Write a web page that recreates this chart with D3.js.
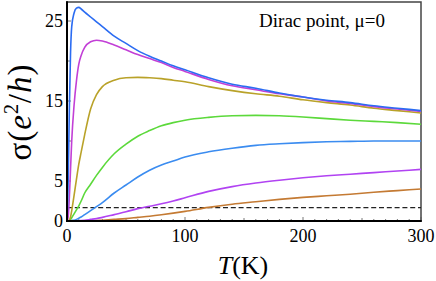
<!DOCTYPE html>
<html><head><meta charset="utf-8">
<script src="https://cdn.jsdelivr.net/npm/d3@7/dist/d3.min.js"></script>
<style>html,body{margin:0;padding:0;background:#fff}svg{display:block}</style>
</head><body>
<svg id="c" width="436" height="281"></svg>
<script>
const T = [0,1,2,3,4,6,8,10,12,15,20,25,30,40,50,60,70,80,90,100,120,140,160,180,200,220,240,260,280,300];
const sBlue1   = [0,5,14,21,24.3,26,26.6,26.7,26.5,26.1,25.5,24.9,24.3,23.1,22.2,21.3,20.6,20.0,19.4,18.9,17.9,17.1,16.6,16.0,15.5,15.1,14.8,14.4,14.1,13.8];
const sMagenta = [0,0.5,3,6.5,10,14.5,17.5,19.6,20.7,21.7,22.4,22.6,22.5,22.0,21.4,20.8,20.3,19.8,19.2,18.7,17.7,16.9,16.4,15.9,15.5,15.0,14.7,14.3,14.0,13.7];
const sOlive   = [0,0,0.1,0.5,1.3,3.2,5.2,7.1,8.6,10.8,14.0,15.8,16.8,17.6,17.9,17.95,17.9,17.8,17.6,17.4,16.8,16.3,15.9,15.6,15.15,14.8,14.5,14.1,13.8,13.5];
const sGreen   = [0,0,0.1,0.2,0.4,0.9,1.4,1.9,2.5,3.5,4.6,5.7,6.7,8.4,9.6,10.6,11.3,11.9,12.3,12.6,12.95,13.15,13.2,13.15,13.0,12.8,12.6,12.45,12.3,12.1];
const sBlue2   = [0,0,0,0,0.05,0.1,0.2,0.35,0.5,0.8,1.3,1.8,2.3,3.5,4.5,5.5,6.35,7.0,7.5,8.0,8.65,9.1,9.45,9.65,9.8,9.9,9.95,10.0,10.0,10.0];
const sPurple  = [0,0,0,0,0,0,0,0.02,0.05,0.1,0.2,0.3,0.45,0.8,1.15,1.55,1.85,2.15,2.5,2.9,3.7,4.3,4.75,5.1,5.4,5.65,5.85,6.05,6.25,6.45];
const sBrown   = [0,0,0,0,0,0,0,0,0,0,0,0.05,0.1,0.2,0.3,0.45,0.6,0.78,0.98,1.2,1.7,2.1,2.4,2.7,2.95,3.15,3.35,3.6,3.8,4.0];
const dashedLevel = 1.68;
const seriesList = [sBlue1, sMagenta, sOlive, sGreen, sBlue2, sPurple, sBrown];
const seriesColors = ["#2b6cf2","#c23fd6","#b9a229","#5cd93b","#3b8cf0","#b143f2","#c47a33"];
const xTickLabels = [0,100,200,300];
const yTickValues = [0,5,10,15,20,25];
const yTickLabels = [0,5,15,25];
const annotation = "Dirac point, \u03bc=0";

const svg = d3.select("#c");
const L=67, R=421, Tp=2, B=221;
const x = d3.scaleLinear().domain([0,300]).range([L,R]);
const y = d3.scaleLinear().domain([0,(B-Tp)/8]).range([B,Tp]);
const serif = "'Liberation Serif','Times New Roman',Times,serif";

svg.append("defs").append("clipPath").attr("id","clp").append("rect")
  .attr("x",L).attr("y",Tp).attr("width",R-L).attr("height",B-Tp);

svg.append("rect").attr("x",L).attr("y",Tp).attr("width",R-L).attr("height",B-Tp)
  .attr("fill","none").attr("stroke","#444").attr("stroke-width",1.5);

const xMinor = d3.range(0,301,10);
svg.append("g").selectAll("line").data(xMinor).join("line")
  .attr("x1",d=>x(d)).attr("x2",d=>x(d))
  .attr("y1",B).attr("y2",d=> d%100===0? B-4 : (d%50===0? B-3 : B-2))
  .attr("stroke","#555").attr("stroke-width",0.8);
svg.append("g").selectAll("line").data(yTickValues).join("line")
  .attr("x1",L).attr("x2",L+4).attr("y1",d=>y(d)).attr("y2",d=>y(d))
  .attr("stroke","#555").attr("stroke-width",0.8);

const line = d3.line().x((d,i)=>x(T[i])).y(d=>y(d)).curve(d3.curveMonotoneX);
const g = svg.append("g").attr("clip-path","url(#clp)");
g.append("line").attr("x1",x(0)).attr("x2",x(300)).attr("y1",y(dashedLevel)).attr("y2",y(dashedLevel))
  .attr("stroke","#222").attr("stroke-width",1.3).attr("stroke-dasharray","5,2.8");
seriesList.slice().reverse().forEach((s,k)=>{
  const i = seriesList.length-1-k;
  g.append("path").attr("d",line(s)).attr("fill","none")
    .attr("stroke",seriesColors[i]).attr("stroke-width",1.6);
});

svg.append("line").attr("x1",L).attr("x2",L).attr("y1",Tp-0.75).attr("y2",B+1).attr("stroke","#000").attr("stroke-width",2);
svg.append("line").attr("x1",L-1).attr("x2",R+0.75).attr("y1",B).attr("y2",B).attr("stroke","#000").attr("stroke-width",2);

svg.append("g").selectAll("text").data(xTickLabels).join("text")
  .attr("x",d=>x(d)).attr("y",242).attr("text-anchor","middle")
  .attr("font-family",serif).attr("font-size",18).text(d=>d);
svg.append("g").selectAll("text").data(yTickLabels).join("text")
  .attr("x",63).attr("y",d=>y(d)+6).attr("text-anchor","end")
  .attr("font-family",serif).attr("font-size",18).text(d=>d);

const xt = svg.append("text").attr("x",243).attr("y",274).attr("text-anchor","middle")
  .attr("font-family",serif).attr("font-size",26);
xt.append("tspan").attr("font-style","italic").text("T");
xt.append("tspan").text("(K)");

const yt = svg.append("text").attr("transform","translate(31,112) rotate(-90)")
  .attr("text-anchor","middle").attr("font-family",serif).attr("font-size",33)
  .attr("letter-spacing",1);
yt.append("tspan").text("\u03c3(");
yt.append("tspan").attr("font-style","italic").text("e");
yt.append("tspan").attr("font-size",20).attr("dy",-13).text("2");
yt.append("tspan").attr("dy",13).text("/");
yt.append("tspan").attr("font-style","italic").text("h");
yt.append("tspan").text(")");

svg.append("text").attr("x",385).attr("y",27).attr("text-anchor","end")
  .attr("font-family",serif).attr("font-size",19).text(annotation);
</script>
</body></html>
